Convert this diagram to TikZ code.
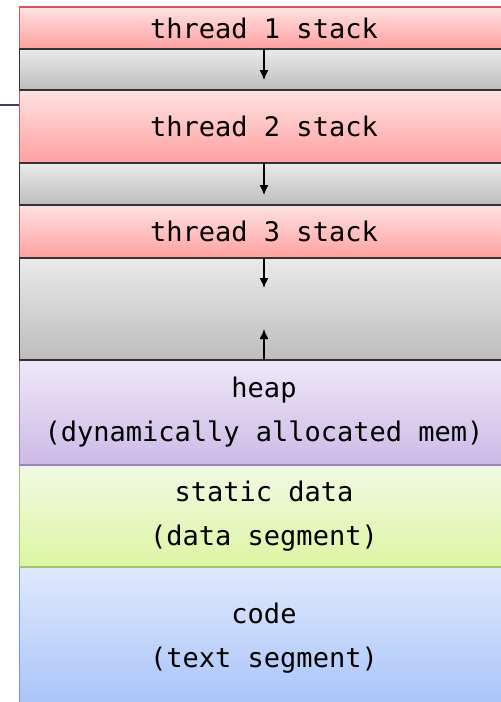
\documentclass[tikz,border=0pt]{standalone}
\usepackage{fontspec}
\setmonofont{DejaVu Sans Mono}
\usetikzlibrary{arrows.meta,shadings}
\definecolor{redtop}{HTML}{FFE2E2}
\definecolor{redbot}{HTML}{FFA0A0}
\definecolor{redline}{HTML}{D05858}
\definecolor{graytop}{HTML}{EAEAEA}
\definecolor{graybot}{HTML}{BDBDBD}
\definecolor{grayline}{HTML}{333333}
\definecolor{heaptop}{HTML}{EEE8F8}
\definecolor{heapbot}{HTML}{CDB9E7}
\definecolor{heapline}{HTML}{9A82C4}
\definecolor{datatop}{HTML}{F2F9E4}
\definecolor{databot}{HTML}{DBF6A2}
\definecolor{dataline}{HTML}{A2C46A}
\definecolor{codetop}{HTML}{E0E9FC}
\definecolor{codebot}{HTML}{A6C3F9}
\definecolor{codeline}{HTML}{7096D6}
\definecolor{strayline}{HTML}{4A3A6A}
\tikzset{
  seg/.style={rectangle, anchor=north west, minimum width=489pt, inner sep=0pt, outer sep=0pt,
    line width=1.3pt, align=center, font=\ttfamily\fontsize{27}{44}\selectfont},
  stackseg/.style={seg, top color=redtop, bottom color=redbot, draw=redline},
  freeseg/.style={seg, top color=graytop, bottom color=graybot, draw=grayline},
  heapseg/.style={seg, top color=heaptop, bottom color=heapbot, draw=heapline},
  dataseg/.style={seg, top color=datatop, bottom color=databot, draw=dataline},
  codeseg/.style={seg, top color=codetop, bottom color=codebot, draw=codeline},
  growarrow/.style={line width=1.3pt, -{Latex[length=10pt,width=9pt]}}
}
\begin{document}
\begin{tikzpicture}[x=1pt,y=-1pt]
\useasboundingbox (0,0) rectangle (501,702);
\draw[strayline, line width=1.3pt] (0,105) -- (19.5,105);
\node[codeseg, minimum height=143pt] (code) at (19.5,567) {code\\(text segment)};
\node[dataseg, minimum height=102pt] (data) at (19.5,465) {static data\\(data segment)};
\node[heapseg, minimum height=105pt] (heap) at (19.5,360) {heap\\(dynamically allocated mem)};
\node[stackseg, minimum height=42pt] (t1) at (19.5,7) {thread 1 stack};
\node[stackseg, minimum height=73pt] (t2) at (19.5,90) {thread 2 stack};
\node[stackseg, minimum height=53pt] (t3) at (19.5,205) {thread 3 stack};
\node[freeseg, minimum height=41pt] (g1) at (19.5,49) {};
\node[freeseg, minimum height=42pt] (g2) at (19.5,163) {};
\node[freeseg, minimum height=102pt] (g3) at (19.5,258) {};
\path (g1.north) ++(0,31) coordinate (e1);
\path (g2.north) ++(0,32) coordinate (e2);
\path (g3.north) ++(0,30) coordinate (e3);
\path (g3.south) ++(0,-31) coordinate (e4);
\draw[growarrow] (g1.north) -- (e1);
\draw[growarrow] (g2.north) -- (e2);
\draw[growarrow] (g3.north) -- (e3);
\draw[growarrow] (g3.south) -- (e4);
\end{tikzpicture}
\end{document}
